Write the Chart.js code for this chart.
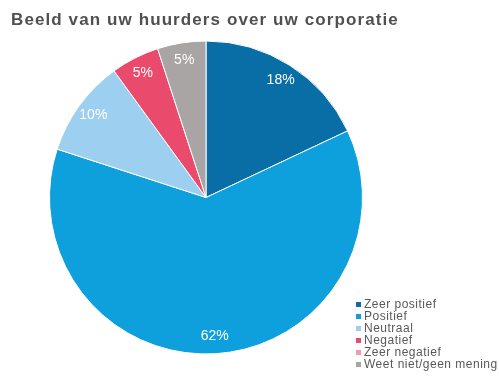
<!DOCTYPE html>
<html>
<head>
<meta charset="utf-8">
<script src="https://cdn.jsdelivr.net/npm/chart.js@4"></script>
<style>
  html, body { margin: 0; padding: 0; background: #fff; }
  canvas { display: block; }
</style>
</head>
<body>
<canvas id="pie" width="499" height="387"></canvas>
<script>
const chartTitle = 'Beeld van uw huurders over uw corporatie';
const categories = ['Zeer positief', 'Positief', 'Neutraal', 'Negatief', 'Zeer negatief', 'Weet niet/geen mening'];
const shares = [18, 62, 10, 5, 0, 5];
const sliceColors = ['#0a6ea6', '#0ea0dd', '#9dcff1', '#ea4a6c', '#f49ab0', '#a9a5a4'];

// title, slice percentages and legend drawn on the canvas after the pie
const extras = {
    id: 'extras',
    afterDraw(chart) {
        const c = chart.ctx;
        c.save();
        c.font = 'bold 17px "Liberation Sans", Arial, sans-serif';
        c.letterSpacing = '1.1px';
        c.fillStyle = '#505050';
        c.textBaseline = 'alphabetic';
        c.fillText(chartTitle, 11, 25);

        const arcs = chart.getDatasetMeta(0).data;
        c.font = '14px "Liberation Sans", Arial, sans-serif';
        c.letterSpacing = '0px';
        c.fillStyle = '#ffffff';
        c.textAlign = 'center';
        c.textBaseline = 'middle';
        arcs.forEach((arc, i) => {
            if (!shares[i]) return;
            const mid = (arc.startAngle + arc.endAngle) / 2;
            const r = arc.outerRadius * 0.89;
            c.fillText(shares[i] + '%', arc.x + Math.cos(mid) * r, arc.y + Math.sin(mid) * r);
        });

        c.font = '12px "Liberation Sans", Arial, sans-serif';
        c.letterSpacing = '0.5px';
        c.textAlign = 'left';
        categories.forEach((name, i) => {
            const y = 304.5 + i * 12;
            c.fillStyle = sliceColors[i];
            c.fillRect(356, y - 2.5, 5, 5);
            c.fillStyle = '#595959';
            c.fillText(name, 364, y + 0.5);
        });
        c.restore();
    }
};

new Chart(document.getElementById('pie'), {
    type: 'pie',
    data: {
        labels: categories,
        datasets: [{
            data: shares,
            backgroundColor: sliceColors,
            borderColor: '#ffffff',
            borderWidth: 1,
            hoverOffset: 0
        }]
    },
    options: {
        responsive: false,
        animation: false,
        layout: { padding: { top: 40, bottom: 32, left: 49, right: 136 } },
        plugins: {
            legend: { display: false },
            tooltip: { enabled: false }
        }
    },
    plugins: [extras]
});
</script>
</body>
</html>
